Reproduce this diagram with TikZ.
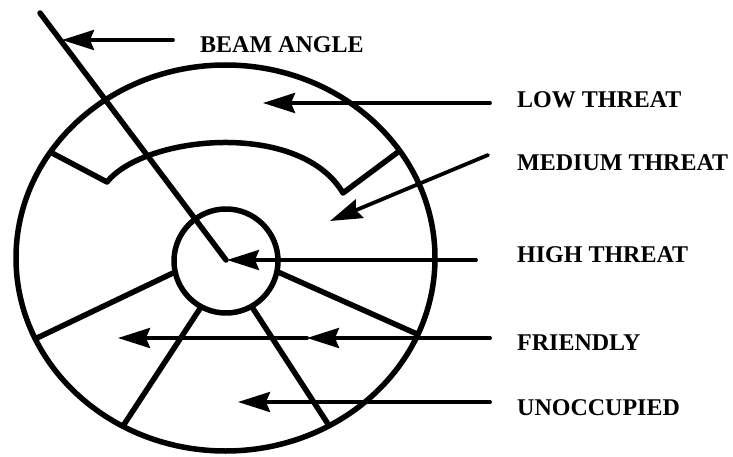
\documentclass[tikz,border=0pt]{standalone}
\usepackage{fontspec}
\setmainfont{Liberation Serif}
\usetikzlibrary{arrows.meta}
\begin{document}
\begin{tikzpicture}[x=1pt,y=-1pt,
  heavy/.style={line width=5.5pt, line join=round, line cap=round},
  pointer/.style={line width=3.8pt, line cap=round, -{Stealth[length=32pt,width=20pt,inset=4pt]}},
  lbl/.style={anchor=west, inner sep=0pt, font=\fontsize{24}{28}\selectfont\bfseries}]
\useasboundingbox (0,0) rectangle (733,457);
% main geometry
\coordinate (C) at (226,260);
\coordinate (O) at (225.5,258);
\coordinate (H) at (226,261);
\draw[heavy] (O) ellipse [x radius=209.5, y radius=193];
\draw[heavy] (H) circle [radius=52];
% beam line
\coordinate (beamtop) at (40,13);
\draw[heavy] (beamtop) -- (C);
% medium threat boundary
\coordinate (mL) at (52,153);
\coordinate (kL) at (107,182);
\coordinate (kR) at (343,193);
\coordinate (mR) at (398,152);
\draw[heavy] (mL) -- (kL) .. controls (145,135) and (300,120) .. (kR) -- (mR);
% lower dividers
\coordinate (d1a) at (173,273); \coordinate (d1b) at (37,338);
\coordinate (d2a) at (278,272); \coordinate (d2b) at (417,334);
\coordinate (d3a) at (201,307); \coordinate (d3b) at (123,426);
\coordinate (d4a) at (252,307); \coordinate (d4b) at (328,424);
\draw[heavy] (d1a) -- (d1b);
\draw[heavy] (d2a) -- (d2b);
\draw[heavy] (d3a) -- (d3b);
\draw[heavy] (d4a) -- (d4b);
% labels
\node[lbl] (beam) at (200,45) {BEAM ANGLE};
\node[lbl] (low) at (517,100) {LOW THREAT};
\node[lbl] (med) at (517,163) {MEDIUM THREAT};
\node[lbl] (high) at (517,255) {HIGH THREAT};
\node[lbl] (friend) at (517,343) {FRIENDLY};
\node[lbl] (unocc) at (517,408) {UNOCCUPIED};
% arrows
\coordinate (bs) at (173,40); \coordinate (be) at (62,40);
\draw[pointer] (bs) -- (be);
\coordinate (ls) at (490,103); \coordinate (le) at (263,103);
\draw[pointer] (ls) -- (le);
\coordinate (ms) at (488,155); \coordinate (me) at (330,221);
\draw[pointer] (ms) -- (me);
\coordinate (hs) at (476,260); \coordinate (he) at (227,260);
\draw[pointer] (hs) -- (he);
\coordinate (fs) at (490,338); \coordinate (fm) at (307,338); \coordinate (fe) at (118,338);
\draw[pointer] (fs) -- (fm);
\draw[pointer] (fm) -- (fe);
\coordinate (us) at (490,402); \coordinate (ue) at (238,402);
\draw[pointer] (us) -- (ue);
\end{tikzpicture}
\end{document}
